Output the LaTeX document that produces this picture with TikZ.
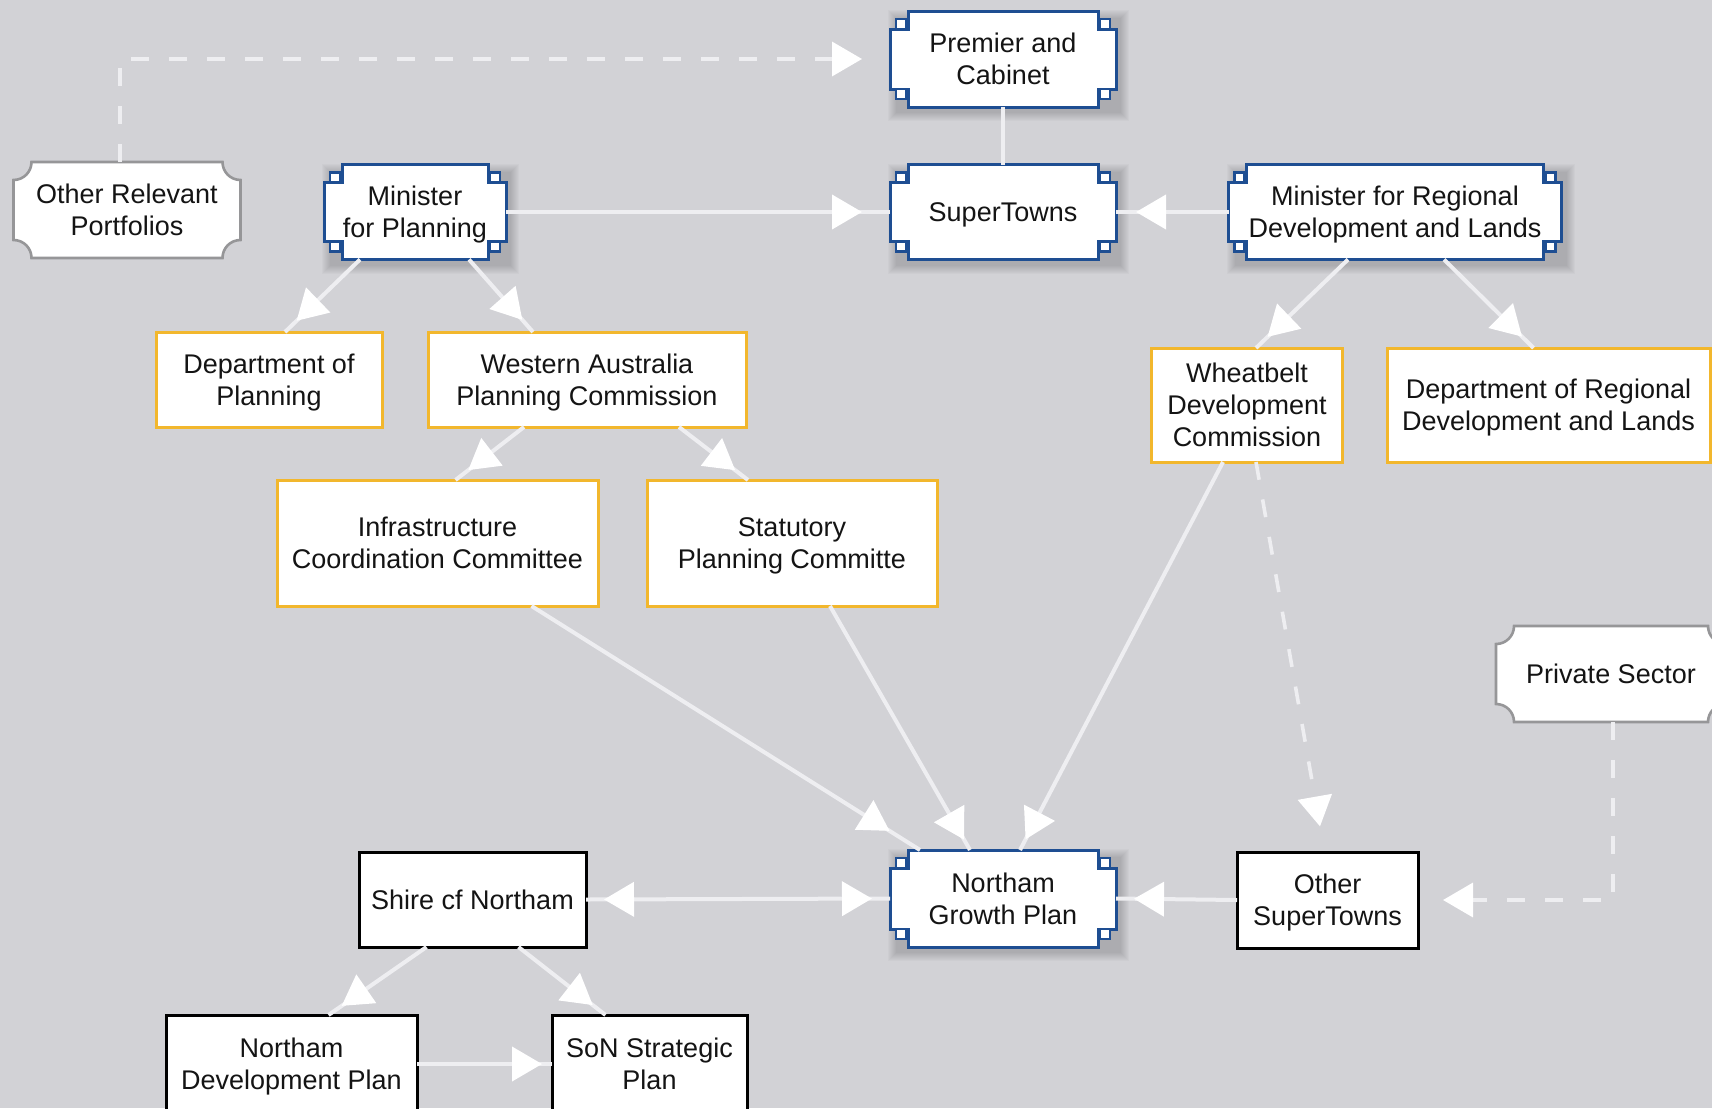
\documentclass[tikz,border=0pt]{standalone}
\usepackage{fontspec}
\setmainfont{Liberation Sans}
\usetikzlibrary{arrows.meta,calc,decorations.markings}
\pgfdeclarelayer{bg}
\pgfsetlayers{bg,main}
\definecolor{bgc}{RGB}{210,210,214}
\definecolor{lnc}{RGB}{238,238,241}
\definecolor{bluc}{RGB}{30,78,146}
\definecolor{yelc}{RGB}{242,183,45}
\definecolor{scbc}{RGB}{150,150,152}
\definecolor{txtc}{RGB}{20,20,20}
\begin{document}
\begin{tikzpicture}[x=0.5pt,y=-0.5pt,
 box/.style={rectangle, align=center, inner sep=0pt, outer sep=0pt, font=\fontsize{13.5}{16}\selectfont, text=txtc, text depth=0pt},
 yel/.style={box, fill=white, draw=yelc, line width=1.5pt},
 blk/.style={box, fill=white, draw=black, line width=1.5pt},
 blu/.style={box},
 scl/.style={box},
 ln/.style={draw=lnc, line width=2pt},
 arr/.style={ln, postaction={decorate}, decoration={markings, mark=at position -#1 with {\arrow{Triangle[length=15pt,width=17pt,color=white,fill=white]}}}},
 arr/.default=8pt,
 arrtwo/.style={ln, postaction={decorate}, decoration={markings, mark=at position #1 with {\arrowreversed{Triangle[length=15pt,width=17pt,color=white,fill=white]}}, mark=at position -#1 with {\arrow{Triangle[length=15pt,width=17pt,color=white,fill=white]}}}},
 dsh/.style={draw=lnc, line width=1.8pt, dash pattern=on 9pt off 10pt, -{Triangle[length=15pt,width=17pt,color=white,fill=white]}},
 bsq/.style={fill=white, draw=bluc, line width=1.1pt},
]
\useasboundingbox (0,0) rectangle (1712,1108);
\clip (0,0) rectangle (1712,1108);

% nodes
\node[blu, minimum width=113pt, minimum height=48pt] (prem) at (1003,59) {Premier and\\Cabinet};
\node[blu, minimum width=113pt, minimum height=47.5pt] (st) at (1003,212) {SuperTowns};
\node[blu, minimum width=91pt, minimum height=47.5pt] (minp) at (415,212) {Minister\\for Planning};
\node[blu, minimum width=166.5pt, minimum height=47.5pt] (minr) at (1395,212) {Minister for Regional\\Development and Lands};
\node[scl, minimum width=113.5pt, minimum height=48pt] (orp) at (127,210) {Other Relevant\\Portfolios};
\node[yel, minimum width=113pt, minimum height=47.5pt] (dplan) at (269,379.5) {Department of\\Planning};
\node[yel, minimum width=159pt, minimum height=47.5pt] (wapc) at (587,379.5) {Western Australia\\Planning Commission};
\node[yel, minimum width=95.5pt, minimum height=57pt] (wdc) at (1247,405) {Wheatbelt\\Development\\Commission};
\node[yel, minimum width=161.5pt, minimum height=57pt] (drdl) at (1548.5,405) {Department of Regional\\Development and Lands};
\node[yel, minimum width=160.5pt, minimum height=63pt] (icc) at (437.5,543) {Infrastructure\\Coordination Committee};
\node[yel, minimum width=145pt, minimum height=63pt] (spc) at (792,543) {Statutory\\Planning Committe};
\node[scl, minimum width=115pt, minimum height=48pt] (ps) at (1611,674) {Private Sector};
\node[blu, minimum width=113pt, minimum height=48.5pt] (ngp) at (1003,898.5) {Northam\\Growth Plan};
\node[blk, minimum width=90.5pt, minimum height=48pt] (ost) at (1327.5,900) {Other\\SuperTowns};
\node[blk, minimum width=113.5pt, minimum height=47.5pt] (shire) at (472.5,899.5) {Shire cf Northam};
\node[blk, minimum width=125.5pt, minimum height=49pt] (ndp) at (291.5,1064) {Northam\\Development Plan};
\node[blk, minimum width=97.5pt, minimum height=49pt] (son) at (649.5,1064) {SoN Strategic\\Plan};

% background shapes
\begin{pgfonlayer}{bg}
\fill[bgc] (0,0) rectangle (1712,1108);
\foreach \nm in {prem,st,minp,minr,ngp}{
  \foreach \e in {8,7,6,5,4,3,2,1,0}{
    \fill[black, opacity=0.02] ($(\nm.north west)+(6-\e,7-\e)$) rectangle ($(\nm.south east)+(5+\e,6+\e)$);
  }
  \filldraw[fill=white, draw=bluc, line width=1.5pt]
    ($(\nm.north west)+(18,0)$) -- ($(\nm.north east)+(-18,0)$) -- ++(0,18) -- ++(18,0)
    -- ($(\nm.south east)+(0,-18)$) -- ++(-18,0) -- ++(0,18)
    -- ($(\nm.south west)+(18,0)$) -- ++(0,-18) -- ++(-18,0)
    -- ($(\nm.north west)+(0,18)$) -- ++(18,0) -- cycle;
  \draw[bsq] ($(\nm.north west)+(6,8)$) rectangle +(10,10);
  \draw[bsq] ($(\nm.north east)+(-16,8)$) rectangle +(10,10);
  \draw[bsq] ($(\nm.south west)+(6,-18)$) rectangle +(10,10);
  \draw[bsq] ($(\nm.south east)+(-16,-18)$) rectangle +(10,10);
}
\foreach \nm in {orp,ps}{
  \filldraw[fill=white, draw=scbc, line width=1.3pt]
    ($(\nm.north west)+(18,0)$) -- ($(\nm.north east)+(-18,0)$)
    .. controls +(0,10) and +(-10,0) .. ($(\nm.north east)+(0,18)$)
    -- ($(\nm.south east)+(0,-18)$)
    .. controls +(-10,0) and +(0,-10) .. ($(\nm.south east)+(-18,0)$)
    -- ($(\nm.south west)+(18,0)$)
    .. controls +(0,-10) and +(10,0) .. ($(\nm.south west)+(0,-18)$)
    -- ($(\nm.north west)+(0,18)$)
    .. controls +(10,0) and +(0,10) .. ($(\nm.north west)+(18,0)$) -- cycle;
}
\end{pgfonlayer}

% connectors
\draw[dsh, shorten >=14pt] ($(orp.north)+(-7,0)$) |- (prem.west);
\draw[ln] (prem.south) -- (st.north);
\draw[arr=14pt] (minp.east) -- (st.west);
\draw[arr=10pt] (minr.west) -- (st.east);
\draw[arr] ($(minp.south)+(-55,0)$) -- ($(dplan.north)+(16,0)$);
\draw[arr] ($(minp.south)+(54,0)$) -- ($(wapc.north)+(-54,0)$);
\draw[arr] ($(wapc.south)+(-63,0)$) -- ($(icc.north)+(18,0)$);
\draw[arr] ($(wapc.south)+(92,0)$) -- ($(spc.north)+(-44,0)$);
\draw[arr] ($(minr.south)+(-47,0)$) -- ($(wdc.north)+(9,0)$);
\draw[arr] ($(minr.south)+(49,0)$) -- ($(drdl.north)+(-15,0)$);
\draw[arr=18pt] ($(icc.south)+(94,0)$) -- ($(ngp.north)+(-83,0)$);
\draw[arr=6pt] ($(spc.south)+(38,0)$) -- ($(ngp.north)+(-33,0)$);
\draw[arr=6pt] ($(wdc.south)+(-24,0)$) -- ($(ngp.north)+(17,0)$);
\draw[dsh, shorten >=13pt] ($(wdc.south)+(9,0)$) -- ($(ost.north)+(-3,0)$);
\draw[dsh, shorten >=12.5pt] ($(ps.south)+(2,0)$) |- (ost.east);
\draw[arr=9pt] (ost.west) -- (ngp.east);
\draw[arrtwo=9pt] (shire.east) -- (ngp.west);
\draw[arr] ($(shire.south)+(-46,0)$) -- ($(ndp.north)+(37,0)$);
\draw[arr] ($(shire.south)+(46,0)$) -- ($(son.north)+(-44,0)$);
\draw[arr=5pt] (ndp.east) -- (son.west);
\end{tikzpicture}
\end{document}
